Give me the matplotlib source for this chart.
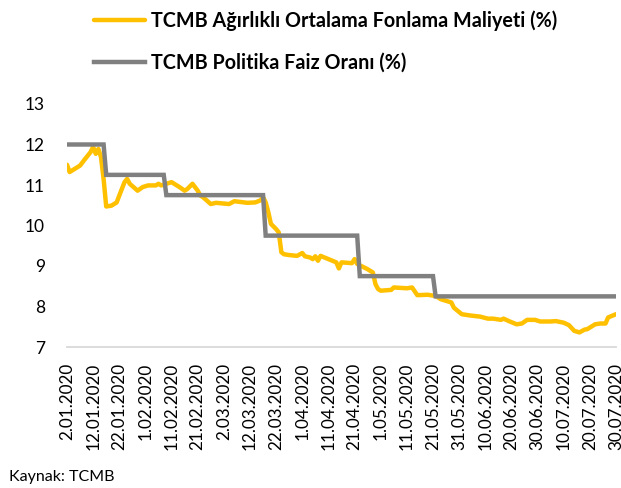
import numpy as np
import matplotlib
matplotlib.use("Agg")
import matplotlib.pyplot as plt
import pandas as pd

plt.rcParams['font.family'] = ['Lato', 'DejaVu Sans']

# TCMB weighted average funding cost (%)
fon_dates = ["2020-01-02", "2020-01-03", "2020-01-05", "2020-01-07", "2020-01-09", "2020-01-11",
             "2020-01-12", "2020-01-13", "2020-01-14", "2020-01-15", "2020-01-16", "2020-01-17",
             "2020-01-19", "2020-01-21", "2020-01-22", "2020-01-24", "2020-01-25", "2020-01-26",
             "2020-01-29", "2020-01-31", "2020-02-02", "2020-02-05", "2020-02-06", "2020-02-07",
             "2020-02-09", "2020-02-11", "2020-02-12", "2020-02-14", "2020-02-16", "2020-02-17",
             "2020-02-19", "2020-02-21", "2020-02-22", "2020-02-23", "2020-02-26", "2020-02-28",
             "2020-03-04", "2020-03-06", "2020-03-11", "2020-03-14", "2020-03-16", "2020-03-17",
             "2020-03-18", "2020-03-19", "2020-03-20", "2020-03-22", "2020-03-23", "2020-03-24",
             "2020-03-25", "2020-03-27", "2020-03-30", "2020-04-01", "2020-04-02", "2020-04-04",
             "2020-04-05", "2020-04-06", "2020-04-07", "2020-04-08", "2020-04-11", "2020-04-14",
             "2020-04-15", "2020-04-16", "2020-04-20", "2020-04-21", "2020-04-22", "2020-04-26",
             "2020-04-28", "2020-04-29", "2020-04-30", "2020-05-01", "2020-05-05", "2020-05-06",
             "2020-05-11", "2020-05-13", "2020-05-15", "2020-05-19", "2020-05-22", "2020-05-24",
             "2020-05-28", "2020-05-29", "2020-06-01", "2020-06-04", "2020-06-08", "2020-06-11",
             "2020-06-13", "2020-06-16", "2020-06-17", "2020-06-19", "2020-06-22", "2020-06-24",
             "2020-06-26", "2020-06-29", "2020-07-01", "2020-07-05", "2020-07-07", "2020-07-10",
             "2020-07-12", "2020-07-14", "2020-07-16", "2020-07-18", "2020-07-19", "2020-07-22",
             "2020-07-24", "2020-07-26", "2020-07-27", "2020-07-30"]
fon_values = [11.50, 11.32, 11.40, 11.48, 11.65, 11.81,
              11.94, 11.77, 11.89, 11.69, 11.15, 10.47,
              10.49, 10.57, 10.74, 11.07, 11.15, 11.03,
              10.86, 10.95, 10.99, 10.99, 11.03, 10.99,
              11.03, 11.07, 11.03, 10.95, 10.86, 10.90,
              11.03, 10.86, 10.74, 10.70, 10.53, 10.56,
              10.53, 10.60, 10.56, 10.57, 10.62, 10.70,
              10.57, 10.33, 10.04, 9.91, 9.83, 9.34,
              9.29, 9.27, 9.25, 9.32, 9.24, 9.21,
              9.17, 9.24, 9.13, 9.25, 9.17, 9.09,
              8.94, 9.09, 9.07, 9.17, 9.05, 8.92,
              8.84, 8.55, 8.43, 8.39, 8.41, 8.47,
              8.45, 8.47, 8.28, 8.29, 8.26, 8.18,
              8.10, 7.97, 7.81, 7.78, 7.75, 7.70,
              7.70, 7.67, 7.70, 7.64, 7.56, 7.58,
              7.67, 7.67, 7.63, 7.63, 7.64, 7.60,
              7.54, 7.40, 7.36, 7.43, 7.44, 7.56,
              7.58, 7.58, 7.73, 7.81]

# TCMB policy rate (%), corner points of the step line
faiz_dates = ["2020-01-02", "2020-01-16", "2020-01-17", "2020-02-08", "2020-02-09",
              "2020-03-17", "2020-03-18", "2020-04-22", "2020-04-23", "2020-05-21",
              "2020-05-22", "2020-07-30"]
faiz_values = [12.0, 12.0, 11.25, 11.25, 10.75,
               10.75, 9.75, 9.75, 8.75, 8.75,
               8.25, 8.25]

label_fon = "TCMB Ağırlıklı Ortalama Fonlama Maliyeti (%)"
label_faiz = "TCMB Politika Faiz Oranı (%)"
tick_dates = pd.date_range("2020-01-02", "2020-07-30", freq="10D")

fig = plt.figure(figsize=(6.21, 4.88), dpi=100)
ax = fig.add_axes([67/621, 1-347/488, (616-67)/621, (347-104)/488])

l1, = ax.plot(pd.to_datetime(fon_dates), fon_values, color="#FFC000", lw=3.2,
              solid_joinstyle="round", solid_capstyle="round")
l2, = ax.plot(pd.to_datetime(faiz_dates), faiz_values, color="#808080", lw=3.2,
              solid_joinstyle="miter")

ax.set_ylim(7, 13)
ax.set_xlim(pd.Timestamp("2020-01-02"), pd.Timestamp("2020-07-30"))
ax.set_yticks(range(7, 14))
ax.set_xticks(tick_dates)
ax.set_xticklabels([f"{d.day}.{d.month:02d}.{d.year}" for d in tick_dates], rotation=90)
ax.tick_params(axis="y", length=0, pad=16, labelsize=12.5)
ax.tick_params(axis="x", length=0, pad=11.5, labelsize=12.3)

for s in ["top", "right", "left"]:
    ax.spines[s].set_visible(False)
ax.spines["bottom"].set_color("#d9d9d9")
ax.spines["bottom"].set_linewidth(1.3)

fig.legend([l1, l2], [label_fon, label_faiz], loc="upper left",
           bbox_to_anchor=(76/621, 1 + 7/488), frameon=False,
           prop={"weight": "bold", "size": 14.2}, handlelength=2.58,
           handletextpad=0.3, labelspacing=1.1)

fig.text(9/621, 1-477/488, "Kaynak: TCMB", fontsize=11.5, va="center", ha="left")

fig.savefig("out.png", dpi=100)
